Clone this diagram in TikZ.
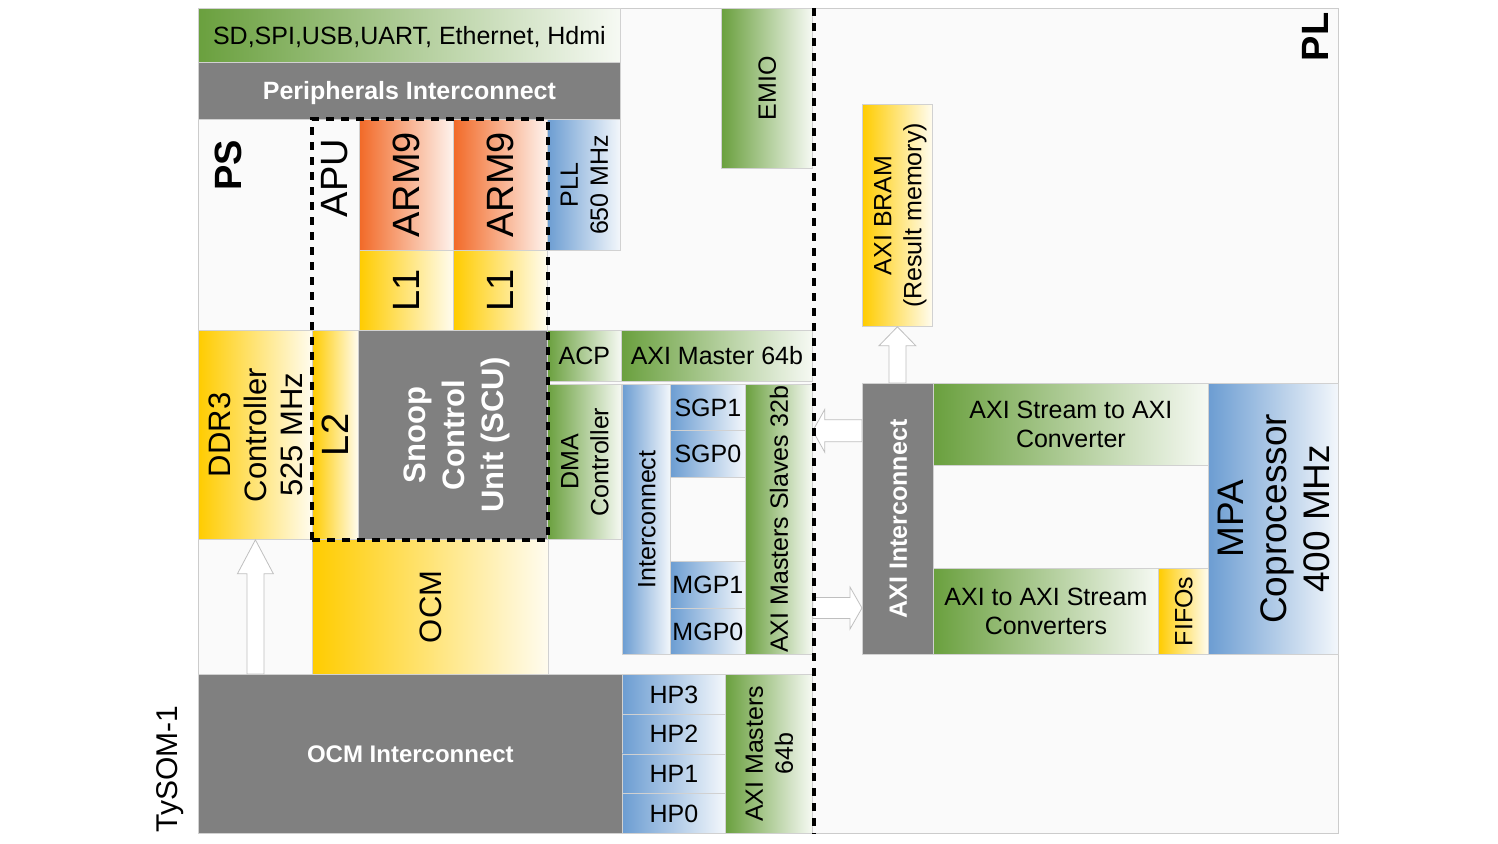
\documentclass[tikz,border=0pt]{standalone}
\usepackage{fontspec}
\setmainfont{Liberation Sans}
\usepackage{graphicx}
\usetikzlibrary{calc}
\definecolor{grn}{RGB}{106,160,62}
\definecolor{org}{RGB}{242,106,40}
\definecolor{ylw}{RGB}{255,204,0}
\definecolor{blu}{RGB}{108,157,210}
\definecolor{gry}{RGB}{128,128,128}
\definecolor{bg}{RGB}{250,250,250}
\newcommand{\vtxt}[1]{\rotatebox{90}{\raisebox{-0.12em}[\height][\depth]{\begin{tabular}{@{}c@{}}#1\end{tabular}}}}
\begin{document}
\begin{tikzpicture}[x=0.5pt,y=-0.5pt,
  blk/.style={draw=black!18,line width=0.4pt,inner sep=0pt,anchor=north west,align=center,text depth=0pt},
  wh/.style 2 args={minimum width=#1*0.5pt,minimum height=#2*0.5pt},
  gbox/.style={blk,left color=grn,right color=grn!6!white},
  obox/.style={blk,left color=org,right color=org!8!white},
  ybox/.style={blk,left color=ylw,right color=ylw!6!white},
  bbox/.style={blk,left color=blu,right color=blu!8!white},
  kbox/.style={blk,fill=gry,text=white},
  fs/.style={font=\fontsize{12.5pt}{15pt}\selectfont},
  fm/.style={font=\fontsize{15.5pt}{18pt}\selectfont},
  fl/.style={font=\fontsize{19pt}{22pt}\selectfont},
  fsb/.style={font=\fontsize{12.5pt}{15pt}\selectfont\bfseries},
  dashln/.style={line width=2pt,dash pattern=on 4pt off 3.5pt},
  blockarr/.style={fill=white,draw=black!25,line width=0.4pt}]
  \useasboundingbox (0,0) rectangle (1498,843);
  % 背景
  \node[blk,fill=bg,draw=black!20,wh={1140}{825}] (frame) at (198,8) {};
  % PS 外设
  \node[gbox,wh={422}{54},fs] (periph) at (198,8) {SD,SPI,USB,UART, Ethernet, Hdmi};
  \node[kbox,wh={422}{57},fsb] (pinter) at (198,62) {Peripherals Interconnect};
  \node[gbox,wh={91}{160},fs] (emio) at (721,8) {\vtxt{EMIO}};
  % APU
  \node[obox,wh={94}{131},fl] (arma) at (359,119) {\vtxt{ARM9}};
  \node[obox,wh={94}{131},fl] (armb) at (453,119) {\vtxt{ARM9}};
  \node[ybox,wh={94}{80},fl] (lia) at (359,250) {\vtxt{L1}};
  \node[ybox,wh={94}{80},fl] (lib) at (453,250) {\vtxt{L1}};
  \node[bbox,wh={73}{131},fs] (pll) at (547,119) {\vtxt{PLL\\650 MHz}};
  \node[ybox,wh={114}{209},fm] (ddr) at (198,330) {\vtxt{DDR3\\Controller\\525 MHz}};
  \node[ybox,wh={46}{209},fl] (ltwo) at (312,330) {\vtxt{L2}};
  \node[kbox,wh={189}{209},font=\fontsize{15.5pt}{19.5pt}\selectfont\bfseries] (scu) at (358,330) {\vtxt{Snoop\\Control\\Unit (SCU)}};
  \node[ybox,wh={236}{135},fm] (ocm) at (312,539) {\vtxt{OCM}};
  % 端口
  \node[gbox,wh={74}{51},fs] (acp) at (547,330) {ACP};
  \node[gbox,wh={191}{51},fs] (axim) at (621,330) {AXI Master 64b};
  \node[gbox,wh={74}{155},fs] (dma) at (547,384) {\vtxt{DMA\\Controller}};
  \node[bbox,wh={48}{270},fs] (icon) at (622,384) {\vtxt{Interconnect}};
  \node[bbox,wh={75}{46},fs] (sgpa) at (670,384) {SGP1};
  \node[bbox,wh={75}{47},fs] (sgpb) at (670,430) {SGP0};
  \node[bbox,wh={75}{47},fs] (mgpa) at (670,561) {MGP1};
  \node[bbox,wh={75}{46},fs] (mgpb) at (670,608) {MGP0};
  \node[gbox,wh={67}{270},fs] (axims) at (745,384) {\vtxt{AXI Masters Slaves 32b}};
  \node[kbox,wh={424}{159},font=\fontsize{12pt}{15pt}\selectfont\bfseries] (ocmi) at (198,674) {OCM Interconnect};
  \foreach \n [count=\i from 0] in {3,2,1,0}
    \node[bbox,wh={103}{39.75},fs] (hp\n) at (622,{674+39.75*\i}) {HP\n};
  \node[gbox,wh={87}{159},fs] (aximb) at (725,674) {\vtxt{AXI Masters\\64b}};
  % PL
  \node[ybox,wh={70}{222},fs] (bram) at (862,104) {\vtxt{AXI BRAM\\(Result memory)}};
  \node[kbox,wh={71}{271},fsb] (axii) at (862,383) {\vtxt{AXI Interconnect}};
  \node[gbox,wh={275}{82},font=\fontsize{12.5pt}{14.5pt}\selectfont] (stoa) at (933,383) {AXI Stream to AXI\\Converter};
  \node[gbox,wh={225}{86},font=\fontsize{12.5pt}{14.5pt}\selectfont] (atos) at (933,568) {AXI to AXI Stream\\Converters};
  \node[ybox,wh={50}{86},fs] (fifo) at (1158,568) {\vtxt{FIFOs}};
  \node[bbox,wh={130}{271},font=\fontsize{18.5pt}{21.5pt}\selectfont] (mpa) at (1208,383) {\vtxt{MPA\\Coprocessor\\400 MHz}};
  % 区域标签
  \node[rotate=90,font=\fontsize{19pt}{22pt}\selectfont\bfseries] (ps) at (228,165) {PS};
  \node[rotate=90,fl] (apu) at (335,178) {APU};
  \node[rotate=90,font=\fontsize{19pt}{22pt}\selectfont\bfseries] (pl) at (1315,37) {PL};
  \node[rotate=90,font=\fontsize{15pt}{18pt}\selectfont] (tysom) at (170,769) {TySOM-1};
  % 空心箭头
  \draw[blockarr] ($(ddr.south |- ocmi.north)+(-8.5,0)$) -- ($(ddr.south)+(-8.5,34)$) -- ($(ddr.south)+(-18,34)$)
    -- (ddr.south) -- ($(ddr.south)+(18,34)$) -- ($(ddr.south)+(8.5,34)$) -- ($(ddr.south |- ocmi.north)+(8.5,0)$) -- cycle;
  \draw[blockarr] ($(bram.south |- axii.north)+(-8.5,0)$) -- ($(bram.south)+(-8.5,19)$) -- ($(bram.south)+(-18.5,19)$)
    -- (bram.south) -- ($(bram.south)+(18.5,19)$) -- ($(bram.south)+(8.5,19)$) -- ($(bram.south |- axii.north)+(8.5,0)$) -- cycle;
  \coordinate (lt) at (sgpa.south -| axims.east);
  \coordinate (lb) at (sgpa.south -| axii.west);
  \draw[blockarr] ($(lb)+(0,-11)$) -- ($(lt)+(12,-11)$) -- ($(lt)+(12,-21.5)$) -- (lt)
    -- ($(lt)+(12,21.5)$) -- ($(lt)+(12,11)$) -- ($(lb)+(0,11)$) -- cycle;
  \coordinate (rt) at (mgpb.north -| axii.west);
  \coordinate (rb) at (mgpb.north -| axims.east);
  \draw[blockarr] ($(rb)+(0,-10.5)$) -- ($(rt)+(-12,-10.5)$) -- ($(rt)+(-12,-21)$) -- (rt)
    -- ($(rt)+(-12,21)$) -- ($(rt)+(-12,10.5)$) -- ($(rb)+(0,10.5)$) -- cycle;
  % 虚线边界
  \draw[dashln] (ltwo.south west) rectangle (armb.north east);
  \draw[dashln] ($(emio.north east)+(1,0)$) -- ($(emio.north east |- frame.south)+(1,0)$);
\end{tikzpicture}
\end{document}
